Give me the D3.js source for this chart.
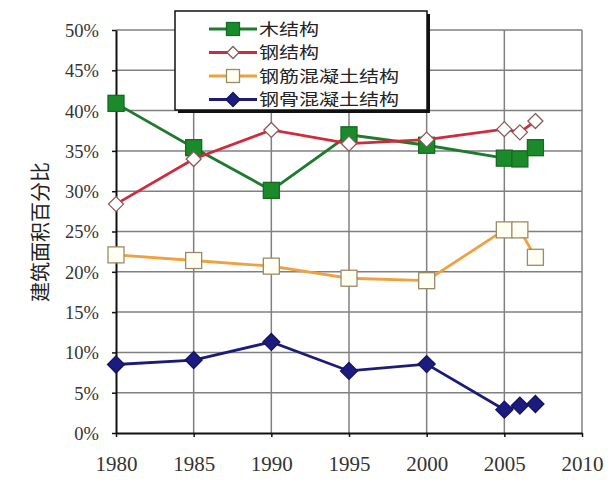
<!DOCTYPE html>
<html>
<head>
<meta charset="utf-8">
<script src="https://cdn.jsdelivr.net/npm/d3@7"></script>
<style>
  html, body { margin: 0; padding: 0; background: #fff; }
  .num { font-family: "Liberation Serif", "Times New Roman", serif; fill: #333; }
  .cjk { font-family: "Noto Sans CJK SC", sans-serif; fill: #222; }
</style>
</head>
<body>
<div id="chart"></div>
<script>
const years = [1980, 1985, 1990, 1995, 2000, 2005, 2006, 2007];
const seriesNames = ["木结构", "钢结构", "钢筋混凝土结构", "钢骨混凝土结构"];
const woodValues = [40.9, 35.4, 30.1, 37.0, 35.7, 34.1, 34.0, 35.4];
const steelValues = [28.4, 34.0, 37.6, 35.9, 36.4, 37.7, 37.3, 38.7];
const rcValues = [22.1, 21.4, 20.7, 19.2, 18.9, 25.2, 25.2, 21.8];
const srcValues = [8.5, 9.05, 11.3, 7.7, 8.55, 2.9, 3.4, 3.6];
const xTicks = [1980, 1985, 1990, 1995, 2000, 2005, 2010];
const yTicks = [0, 5, 10, 15, 20, 25, 30, 35, 40, 45, 50];
const yTitle = "建筑面积百分比";

const margin = { top: 30, right: 33, bottom: 51, left: 116 };
const totalWidth = 615;
const totalHeight = 484;
const width = totalWidth - margin.left - margin.right;
const height = totalHeight - margin.top - margin.bottom;

const svg = d3
  .select("#chart")
  .append("svg")
  .attr("width", totalWidth)
  .attr("height", totalHeight);

const g = svg
  .append("g")
  .attr("transform", `translate(${margin.left},${margin.top})`);

const xScale = d3.scaleLinear().domain([1980, 2010]).range([0, width]);
const yScale = d3.scaleLinear().domain([0, 50]).range([height, 0]);

// grid lines
g.append("g")
  .selectAll("line")
  .data(yTicks.filter((d) => d > 0))
  .enter()
  .append("line")
  .attr("x1", 0)
  .attr("x2", width)
  .attr("y1", (d) => yScale(d))
  .attr("y2", (d) => yScale(d))
  .attr("stroke", "#808080")
  .attr("stroke-width", 1.5);

g.append("g")
  .selectAll("line")
  .data(xTicks.filter((d) => d > 1980))
  .enter()
  .append("line")
  .attr("x1", (d) => xScale(d))
  .attr("x2", (d) => xScale(d))
  .attr("y1", 0)
  .attr("y2", height)
  .attr("stroke", "#808080")
  .attr("stroke-width", 1.5);

// axes
const xAxis = g
  .append("g")
  .attr("transform", `translate(0,${height})`)
  .call(
    d3.axisBottom(xScale).tickValues(xTicks).tickSize(4).tickSizeOuter(0).tickFormat(d3.format("d"))
  );
xAxis.select(".domain").attr("stroke", "#111").attr("stroke-width", 2);
xAxis.selectAll(".tick line").attr("stroke", "#111").attr("stroke-width", 1.5);
xAxis
  .selectAll("text")
  .attr("class", "num")
  .attr("font-size", 21)
  .attr("dy", 0)
  .attr("y", 38);

const yAxis = g
  .append("g")
  .call(
    d3.axisLeft(yScale).tickValues(yTicks).tickSize(4).tickSizeOuter(0).tickFormat((d) => d + "%")
  );
yAxis.select(".domain").attr("stroke", "#111").attr("stroke-width", 2);
yAxis.selectAll(".tick line").attr("stroke", "#111").attr("stroke-width", 1.5);
yAxis
  .selectAll("text")
  .attr("class", "num")
  .attr("font-size", 18.5)
  .attr("x", -17)
  .attr("dy", "0.35em");

svg
  .append("text")
  .attr("class", "cjk")
  .attr("transform", `translate(39,232) rotate(-90)`)
  .attr("text-anchor", "middle")
  .attr("dominant-baseline", "central")
  .attr("font-size", 20)
  .text(yTitle);

// series
const series = [
  { name: seriesNames[0], values: woodValues, line: "#1e7a2c", fill: "#1a8a2a", stroke: "#166a22", shape: "square", size: 16 },
  { name: seriesNames[1], values: steelValues, line: "#d02a3c", fill: "#ffffff", stroke: "#8a5a5a", shape: "diamond", size: 15 },
  { name: seriesNames[2], values: rcValues, line: "#f0a040", fill: "#fffff2", stroke: "#9a8a6a", shape: "square", size: 16 },
  { name: seriesNames[3], values: srcValues, line: "#1c1c78", fill: "#1c1c80", stroke: "#141460", shape: "diamond", size: 17 },
];

const line = d3
  .line()
  .x((d) => xScale(d.year))
  .y((d) => yScale(d.value));

function drawMarker(sel, s) {
  if (s.shape === "square") {
    sel
      .append("rect")
      .attr("x", -s.size / 2)
      .attr("y", -s.size / 2)
      .attr("width", s.size)
      .attr("height", s.size)
      .attr("fill", s.fill)
      .attr("stroke", s.stroke)
      .attr("stroke-width", 1.3);
  } else {
    const r = s.size / 2;
    sel
      .append("path")
      .attr("d", `M0,${-r}L${r},0L0,${r}L${-r},0Z`)
      .attr("fill", s.fill)
      .attr("stroke", s.stroke)
      .attr("stroke-width", 1.3);
  }
}

series.forEach((s) => {
  const pts = years.map((year, i) => ({ year: year, value: s.values[i] }));
  const sg = g.append("g");
  sg.append("path")
    .datum(pts)
    .attr("fill", "none")
    .attr("stroke", s.line)
    .attr("stroke-width", 2.8)
    .attr("d", line);
  sg.selectAll("g.pt")
    .data(pts)
    .enter()
    .append("g")
    .attr("class", "pt")
    .attr("transform", (d) => `translate(${xScale(d.year)},${yScale(d.value)})`)
    .each(function () {
      drawMarker(d3.select(this), s);
    });
});

// legend
const legend = svg.append("g").attr("transform", "translate(175,11)");
legend
  .append("rect")
  .attr("x", 3)
  .attr("y", 3)
  .attr("width", 252)
  .attr("height", 99)
  .attr("fill", "#111");
legend
  .append("rect")
  .attr("x", 0)
  .attr("y", 0)
  .attr("width", 252)
  .attr("height", 99)
  .attr("fill", "#fff")
  .attr("stroke", "#111")
  .attr("stroke-width", 1.5);

series.forEach((s, i) => {
  const row = legend.append("g").attr("transform", `translate(0,${18 + i * 23.5})`);
  row.append("line")
    .attr("x1", 34)
    .attr("x2", 82)
    .attr("stroke", s.line)
    .attr("stroke-width", 2.8);
  const m = row.append("g").attr("transform", "translate(58,0)");
  drawMarker(m, Object.assign({}, s, { size: s.size - 3 }));
  row.append("text")
    .attr("class", "cjk")
    .attr("x", 84)
    .attr("dy", "0.36em")
    .attr("font-size", 16)
    .attr("textLength", s.name.length * 20)
    .attr("lengthAdjust", "spacingAndGlyphs")
    .text(s.name);
});
</script>
</body>
</html>
